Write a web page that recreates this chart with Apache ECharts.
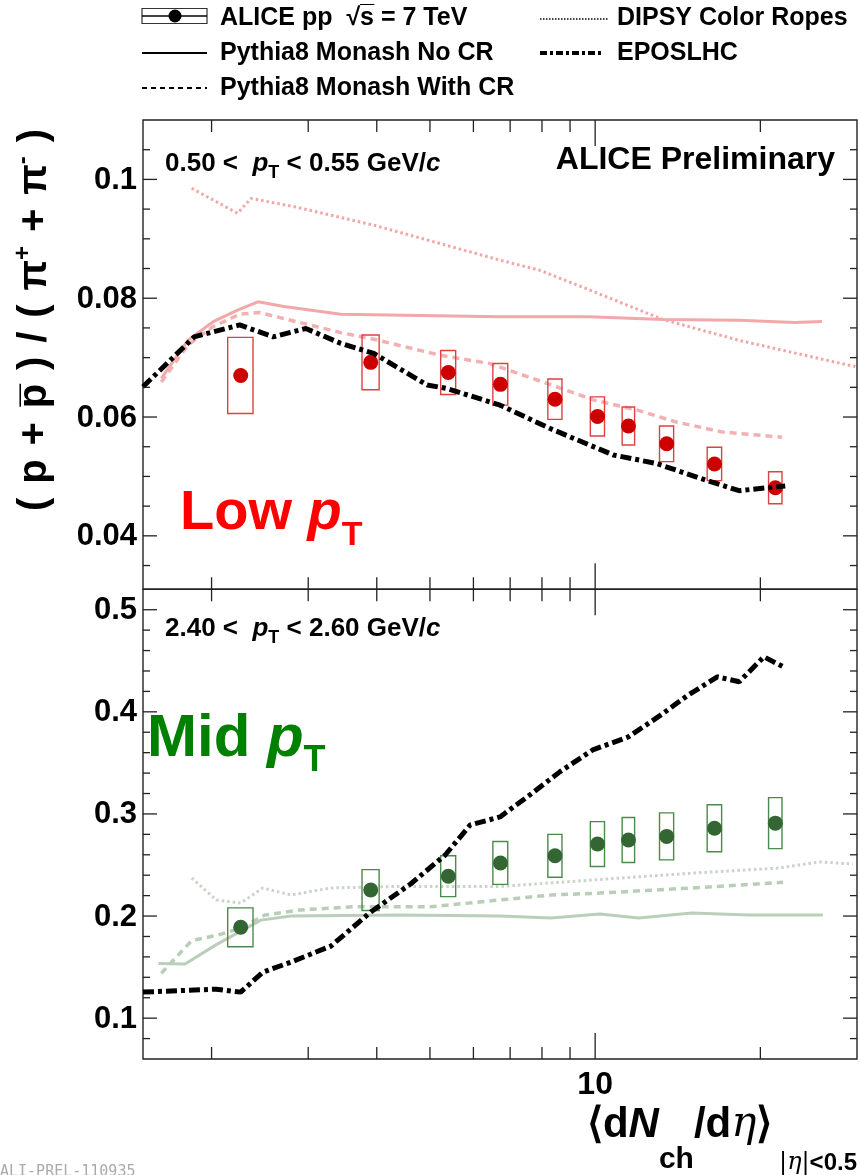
<!DOCTYPE html>
<html><head><meta charset="utf-8">
<script src="https://cdn.jsdelivr.net/npm/echarts@6.0.0/dist/echarts.min.js"></script>
<style>html,body{margin:0;padding:0;background:#fff}#c{width:860px;height:1175px}</style>
</head><body><div id="c"></div>
<script>
// ---------------- DATA ----------------
const nch    = [2.26, 3.90, 5.40, 6.72, 8.45, 10.1, 11.5, 13.5, 16.5, 21.3];
const nchErr = [0.12, 0.14, 0.17, 0.21, 0.25, 0.30, 0.30, 0.40, 0.50, 0.60];

const lowVal = [0.0670, 0.0692, 0.0675, 0.0655, 0.0630, 0.0601, 0.0585, 0.0555, 0.0521, 0.0481];
const lowSys = [0.0064, 0.0046, 0.0037, 0.0035, 0.0034, 0.0033, 0.0032, 0.0030, 0.0028, 0.0027];
const midVal = [0.189, 0.2255, 0.239, 0.252, 0.259, 0.2705, 0.2745, 0.278, 0.286, 0.291];
const midSys = [0.019, 0.020, 0.020, 0.021, 0.021, 0.022, 0.022, 0.023, 0.023, 0.025];

const lowNoCR   = [[1.62,0.0665],[1.81,0.0729],[2.01,0.0760],[2.23,0.0780],[2.43,0.0794],[2.71,0.0786],[3.44,0.0773],[6.71,0.0769],[9.76,0.0769],[13.3,0.0764],[18.3,0.0763],[23.1,0.0759],[25.9,0.0761]];
const lowWithCR = [[1.62,0.0659],[1.81,0.0721],[2.01,0.0752],[2.25,0.0773],[2.44,0.0776],[2.87,0.0760],[3.44,0.0742],[3.95,0.0731],[5.22,0.0704],[6.43,0.0690],[8.50,0.0651],[10.0,0.0628],[11.9,0.0612],[14.0,0.0592],[17.0,0.0575],[21.9,0.0566]];
const lowDipsy  = [[1.84,0.0985],[2.23,0.0943],[2.36,0.0968],[2.83,0.0954],[3.95,0.0923],[5.22,0.0892],[6.71,0.0864],[7.93,0.0847],[9.76,0.0814],[13.3,0.0764],[18.3,0.0729],[28.1,0.0690],[29.8,0.0685]];
const lowEpos   = [[1.5,0.0651],[1.86,0.0735],[2.25,0.0755],[2.59,0.0735],[2.97,0.0749],[3.44,0.0724],[3.95,0.0707],[4.94,0.0654],[5.37,0.0648],[6.71,0.0620],[8.26,0.0581],[10.8,0.0536],[12.9,0.0522],[15.9,0.0494],[18.3,0.0476],[22.2,0.0484]];

const midNoCR   = [[1.60,0.1536],[1.79,0.153],[2.04,0.172],[2.46,0.196],[2.79,0.200],[4.4,0.201],[6.7,0.200],[8.3,0.198],[10.2,0.202],[12.0,0.198],[15.0,0.203],[19.0,0.201],[26.0,0.201]];
const midWithCR = [[1.62,0.144],[1.84,0.176],[2.04,0.181],[2.26,0.188],[2.50,0.201],[2.9,0.206],[3.6,0.209],[5.0,0.209],[6.7,0.2157],[8.3,0.2206],[10.2,0.2225],[15.0,0.2275],[22.0,0.233]];
const midDipsy  = [[1.84,0.2373],[2.04,0.2157],[2.26,0.2127],[2.48,0.2275],[2.79,0.2206],[3.30,0.2275],[4.4,0.229],[6.7,0.229],[9.9,0.2353],[15.0,0.242],[21.6,0.247],[25.6,0.253],[29.5,0.251]];
const midEpos   = [[1.5,0.1255],[2.04,0.1284],[2.26,0.1255],[2.48,0.145],[2.79,0.1549],[3.30,0.1706],[3.90,0.2039],[4.61,0.2314],[5.33,0.2598],[5.92,0.2892],[6.71,0.2971],[7.60,0.3186],[8.62,0.3412],[9.9,0.3627],[11.5,0.3755],[13.1,0.396],[14.8,0.4167],[16.7,0.4343],[18.3,0.4294],[20.3,0.4539],[22.2,0.4431]];

// axis ticks & labels
const xRange = [1.5, 30];
const xTicks = [2,3,4,5,6,7,8,9,10,20];
const xMajorTicks = [10];
const xTickLabels = ['10'];
const yTopRange = [0.031, 0.11];
const yTopTicks = [0.035,0.04,0.045,0.05,0.055,0.06,0.065,0.07,0.075,0.08,0.085,0.09,0.095,0.1,0.105];
const yTopMajor = [0.04,0.06,0.08,0.1];
const yTopLabels = ['0.04','0.06','0.08','0.1'];
const yBotRange = [0.06, 0.52];
const yBotTicks = [0.08,0.1,0.12,0.14,0.16,0.18,0.2,0.22,0.24,0.26,0.28,0.3,0.32,0.34,0.36,0.38,0.4,0.42,0.44,0.46,0.48,0.5];
const yBotMajor = [0.1,0.2,0.3,0.4,0.5];
const yBotLabels = ['0.1','0.2','0.3','0.4','0.5'];

// ---------------- CHART ----------------
const FONT = '"Liberation Sans", Arial, Helvetica, sans-serif';
const chart = echarts.init(document.getElementById('c'), null, {renderer:'canvas'});

const GL = 143, GW = 714;
const grids = [
  {left: GL, top: 120, width: GW, height: 469.3, show: true, borderColor: '#222', borderWidth: 1.4, backgroundColor: 'transparent'},
  {left: GL, top: 589.3, width: GW, height: 469.7, show: true, borderColor: '#222', borderWidth: 1.4, backgroundColor: 'transparent'}
];
const hiddenAxis = {axisLine:{show:false}, axisTick:{show:false}, axisLabel:{show:false}, splitLine:{show:false}};
const xAxes = [0,1].map(i => Object.assign({type:'log', logBase:10, gridIndex:i, min:xRange[0], max:xRange[1]}, hiddenAxis));
const yAxes = [
  Object.assign({type:'value', gridIndex:0, min:yTopRange[0], max:yTopRange[1]}, hiddenAxis),
  Object.assign({type:'value', gridIndex:1, min:yBotRange[0], max:yBotRange[1]}, hiddenAxis)
];

function xTickSeries(gi, yMin, withLabels){
  return {type:'custom', xAxisIndex:gi, yAxisIndex:gi, silent:true, z:10, clip:false,
    encode:{x:0, y:1},
    data: xTicks.map(v => [v, yMin, xMajorTicks.indexOf(v) >= 0 ? 1 : 0]),
    renderItem: (params, api) => {
      const cs = params.coordSys;
      const v = api.value(0);
      const px = api.coord([v, api.value(1)])[0];
      const major = api.value(2) === 1;
      const len = major ? 26 : 12;
      const b = cs.y + cs.height, t = cs.y;
      const st = {stroke:'#222', lineWidth:1.3};
      const children = [
        {type:'line', shape:{x1:px, y1:b, x2:px, y2:b-len}, style:st},
        {type:'line', shape:{x1:px, y1:t, x2:px, y2:t+len}, style:st}
      ];
      const li = xMajorTicks.indexOf(v);
      if (withLabels && li >= 0) {
        children.push({type:'text', style:{text:xTickLabels[li], x:px, y:b+26, align:'center', verticalAlign:'middle',
          font:'bold 32px ' + FONT, fill:'#000'}});
      }
      return {type:'group', children};
    }};
}
function yTickSeries(gi, ticks, majors, labels){
  return {type:'custom', xAxisIndex:gi, yAxisIndex:gi, silent:true, z:10, clip:false,
    encode:{x:0, y:1},
    data: ticks.map(v => [xRange[0], v, majors.indexOf(v) >= 0 ? 1 : 0]),
    renderItem: (params, api) => {
      const cs = params.coordSys;
      const v = api.value(1);
      const py = api.coord([api.value(0), v])[1];
      const major = api.value(2) === 1;
      const len = major ? 14 : 7;
      const l = cs.x, r = cs.x + cs.width;
      const st = {stroke:'#222', lineWidth:1.3};
      const children = [
        {type:'line', shape:{x1:l, y1:py, x2:l+len, y2:py}, style:st},
        {type:'line', shape:{x1:r, y1:py, x2:r-len, y2:py}, style:st}
      ];
      const li = majors.indexOf(v);
      if (li >= 0) {
        children.push({type:'text', style:{text:labels[li], x:l-6, y:py+1, align:'right', verticalAlign:'middle',
          font:'bold 31px ' + FONT, fill:'#000'}});
      }
      return {type:'group', children};
    }};
}
function boxSeries(gi, vals, sys, color){
  return {type:'custom', xAxisIndex:gi, yAxisIndex:gi, silent:true, z:3,
    encode:{x:0, y:1},
    data: nch.map((x,i) => [x, vals[i], nchErr[i], sys[i]]),
    renderItem: (params, api) => {
      const x = api.value(0), y = api.value(1), ex = api.value(2), ey = api.value(3);
      const a = api.coord([x-ex, y+ey]), b = api.coord([x+ex, y-ey]);
      return {type:'rect', shape:{x:a[0], y:a[1], width:b[0]-a[0], height:b[1]-a[1]},
        style:{fill:'none', stroke:color, lineWidth:1.4}};
    }};
}
function lineS(gi, data, color, type, width, z){
  return {type:'line', xAxisIndex:gi, yAxisIndex:gi, data, symbol:'none', showSymbol:false, silent:true,
    lineStyle:{color, type, width}, z: z || 2};
}
function pointS(gi, vals, color){
  return {type:'scatter', xAxisIndex:gi, yAxisIndex:gi, data: nch.map((x,i)=>[x, vals[i]]),
    symbol:'circle', symbolSize:15, itemStyle:{color, opacity:1}, silent:true, z:4};
}

const PINK_S = '#f2a8a8', PINK_D = '#f2b0b0', PINK_O = '#f2a5a5';
const GRN_S = '#bacfba', GRN_D = '#b9ceb9', GRN_O = '#c8d4c8';
const EPOS_DASH = [11,4,4,4];

const series = [
  lineS(0, lowDipsy, PINK_O, [2.5,3], 3),
  lineS(0, lowNoCR, PINK_S, 'solid', 3),
  lineS(0, lowWithCR, PINK_D, [7,5], 3.5),
  boxSeries(0, lowVal, lowSys, '#e04040'),
  pointS(0, lowVal, '#cc0000'),
  lineS(0, lowEpos, '#000', EPOS_DASH, 5, 5),

  lineS(1, midDipsy, GRN_O, [2.5,3], 3),
  lineS(1, midNoCR, GRN_S, 'solid', 3),
  lineS(1, midWithCR, GRN_D, [7,5], 3.5),
  boxSeries(1, midVal, midSys, '#4a8a4a'),
  pointS(1, midVal, '#336633'),
  lineS(1, midEpos, '#000', EPOS_DASH, 5, 5),

  xTickSeries(0, yTopRange[0], false),
  xTickSeries(1, yBotRange[0], true),
  yTickSeries(0, yTopTicks, yTopMajor, yTopLabels),
  yTickSeries(1, yBotTicks, yBotMajor, yBotLabels)
];

// ---------- graphic: legend, titles, annotations ----------
function tok(size, opts){
  return Object.assign({fontSize:size, fontWeight:'bold', fontFamily:FONT, fill:'#000', lineHeight:size, verticalAlign:'top'}, opts||{});
}
const legendFont = 'bold 25px ' + FONT;
const graphics = [];
// legend symbols
graphics.push({type:'rect', shape:{x:142, y:8.5, width:65, height:15}, style:{fill:'none', stroke:'#333', lineWidth:1.2}});
graphics.push({type:'line', shape:{x1:142, y1:16, x2:207, y2:16}, style:{stroke:'#000', lineWidth:1.6}});
graphics.push({type:'circle', shape:{cx:175, cy:16, r:6.5}, style:{fill:'#000'}});
graphics.push({type:'line', shape:{x1:142, y1:53, x2:207, y2:53}, style:{stroke:'#000', lineWidth:2}});
graphics.push({type:'line', shape:{x1:142, y1:88, x2:207, y2:88}, style:{stroke:'#000', lineWidth:2, lineDash:[5,4]}});
graphics.push({type:'line', shape:{x1:540, y1:19, x2:609, y2:19}, style:{stroke:'#000', lineWidth:1.5, lineDash:[1.5,1.5]}});
graphics.push({type:'line', shape:{x1:540, y1:53, x2:603, y2:53}, style:{stroke:'#000', lineWidth:4, lineDash:[7,3,3,3]}});
// legend text
const legTexts = [
  ['ALICE pp  \u221As\u0305 = 7 TeV', 220, 18],
  ['Pythia8 Monash No CR', 220, 53],
  ['Pythia8 Monash With CR', 220, 88],
  ['DIPSY Color Ropes', 617, 18],
  ['EPOSLHC', 617, 53]
];
legTexts.forEach(t => graphics.push({type:'text', x:t[1], y:t[2], style:{text:t[0], font:legendFont, fill:'#000', align:'left', verticalAlign:'middle'}}));

// pT range labels
function ptLabel(txtA, txtB, x, yc){
  const F = 26;
  return {type:'text', x:x, y:yc - F/2, style:{
    text:'{n|' + txtA + '}{i|p}{s|T}{n|' + txtB + '}{i|c}', align:'left', verticalAlign:'top',
    rich:{ n:tok(F), i:tok(F,{fontStyle:'italic'}), s:tok(18,{lineHeight:31, verticalAlign:'bottom'}) } }};
}
graphics.push(ptLabel('0.50 <  ', ' < 0.55 GeV/', 165, 164));
graphics.push(ptLabel('2.40 <  ', ' < 2.60 GeV/', 165, 629));
graphics.push({type:'text', x:835, y:160.5, style:{text:'ALICE Preliminary', font:'bold 32px ' + FONT, fill:'#000', align:'right', verticalAlign:'middle'}});

// big Low / Mid labels
function bigLabel(word, x, yc, color, F){
  return {type:'text', x:x, y:yc - F/2, style:{
    text:'{n|' + word + ' }{i|p}{s|T}', align:'left', verticalAlign:'top',
    rich:{ n:tok(F,{fill:color}), i:tok(F,{fill:color, fontStyle:'italic'}),
           s:tok(Math.round(F*0.6),{fill:color, lineHeight:Math.round(F*0.5 + 22 + F*0.3), verticalAlign:'bottom'}) } }};
}
graphics.push(bigLabel('Low', 180, 514, '#ff0000', 56));
graphics.push(bigLabel('Mid', 147, 739, '#008000', 60));

// y title (rotated)
(function(){
  const F = 40, FS = 24;
  const m = tok(F, {lineHeight:F+8, verticalAlign:'middle'});
  const g = tok(50, {lineHeight:F+8, verticalAlign:'middle'});
  const sup = tok(FS, {lineHeight:FS, verticalAlign:'top'});
  const parts = ['(', ' ', 'p', ' ', '+', ' ', 'p\u0305', ' ', ')', ' ', '/', ' ', '(', ' ', '\u03C0', '^+', ' ', '+', ' ', '\u03C0', '^-', ' ', ')'];
  const txt = parts.map(p => p === ' ' ? '{g| }' : (p[0] === '^' ? '{u|' + p.slice(1) + '}' : '{m|' + p + '}')).join('');
  graphics.push({type:'text', x:35, y:320, rotation:Math.PI/2, style:{
    text:txt, align:'center', verticalAlign:'middle', rich:{m:m, g:g, u:sup}}});
})();

// x title
(function(){
  const F = 42;
  const serifI = '"DejaVu Serif", "Liberation Serif", serif';
  const LH = 71;
  graphics.push({type:'text', x:857, y:1104, style:{
    text:'{m|\u27E8d}{mi|N}{c|ch}{m|/d}{e|\u03B7}{m|\u27E9}{s| }{se||}{sei|\u03B7}{se||}{s|<0.5}',
    align:'right', verticalAlign:'top',
    rich:{
      m: tok(F), mi: tok(F,{fontStyle:'italic'}),
      e: tok(F,{fontStyle:'italic', fontWeight:'normal', fontFamily:serifI}),
      c: tok(30,{lineHeight:LH, verticalAlign:'bottom'}),
      s: tok(24,{lineHeight:LH, verticalAlign:'bottom'}),
      se: tok(24,{lineHeight:LH, verticalAlign:'bottom', fontWeight:'normal', fontFamily:serifI}),
      sei: tok(24,{lineHeight:LH, verticalAlign:'bottom', fontWeight:'normal', fontStyle:'italic', fontFamily:serifI})
    }}});
})();

graphics.push({type:'text', x:0, y:1172, style:{text:'ALI-PREL-110935', font:'15px "DejaVu Sans Mono", monospace', fill:'#aaa', align:'left', verticalAlign:'middle'}});

chart.setOption({
  animation:false,
  backgroundColor:'#fff',
  grid: grids,
  xAxis: xAxes,
  yAxis: yAxes,
  series: series,
  graphic: graphics
});
</script></body></html>
